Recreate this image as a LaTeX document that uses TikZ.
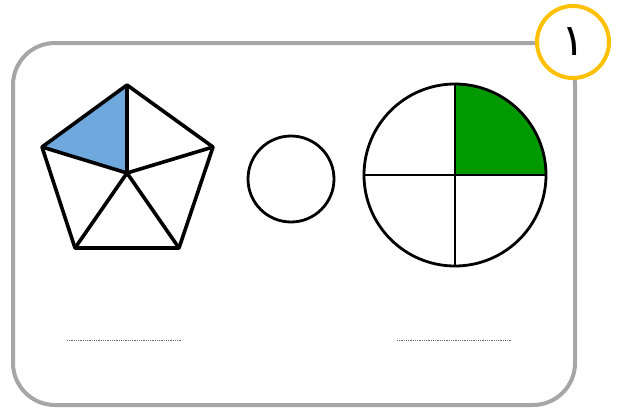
\documentclass[tikz,border=0pt]{standalone}
\usepackage{fontspec}
\newfontfamily\arabicfont[Script=Arabic]{DejaVu Sans}
\TeXXeTstate=1
\definecolor{badgeyellow}{RGB}{255,192,0}
\definecolor{pentblue}{RGB}{111,168,220}
\definecolor{quartgreen}{RGB}{0,153,0}
\begin{document}
\begin{tikzpicture}[x=1pt,y=-1pt,
  frame/.style={draw=black!35,line width=4pt,rounded corners=42pt},
  badge/.style={draw=badgeyellow,line width=4pt,fill=white,circle,minimum size=72pt,inner sep=0pt},
  pentline/.style={draw=black,line width=3.6pt,line join=round},
  roundline/.style={draw,line width=2.8pt,circle,inner sep=0pt},
  quarterline/.style={draw=black,line width=2.6pt},
  dotline/.style={draw=black!60,line width=0.9pt,dash pattern=on 0.9pt off 0.9pt}]
\useasboundingbox (0,0) rectangle (617,410);
\draw[frame] (13,43) rectangle (575,405);
\node[badge] (b) at (573,42) {\arabicfont\fontsize{44}{44}\selectfont\beginR ١\endR};
% pentagon
\coordinate (t) at (127,85);
\coordinate (l) at (42,147);
\coordinate (r) at (213,147);
\coordinate (bl) at (75,248);
\coordinate (br) at (179,248);
\coordinate (c) at (127,173);
\fill[fill=pentblue] (t) -- (l) -- (c) -- cycle;
\draw[pentline] (t) -- (r) -- (br) -- (bl) -- (l) -- cycle;
\draw[pentline] (t) -- (c) (l) -- (c) (r) -- (c) (bl) -- (c) (br) -- (c);
% middle circle
\node[roundline,minimum size=86pt] (m) at (291,179) {};
% right circle
\coordinate (rc) at (455,175);
\fill[fill=quartgreen] (rc) -- (546,175) arc[start angle=0,end angle=-90,radius=91] -- cycle;
\node[roundline,minimum size=182pt] (big) at (rc) {};
\draw[quarterline] (big.north) -- (big.south) (big.west) -- (big.east);
% dotted lines
\coordinate (d1a) at (67,340); \coordinate (d1b) at (181,340);
\coordinate (d2a) at (397,340); \coordinate (d2b) at (511,340);
\draw[dotline] (d1a) -- (d1b);
\draw[dotline] (d2a) -- (d2b);
\end{tikzpicture}
\end{document}
